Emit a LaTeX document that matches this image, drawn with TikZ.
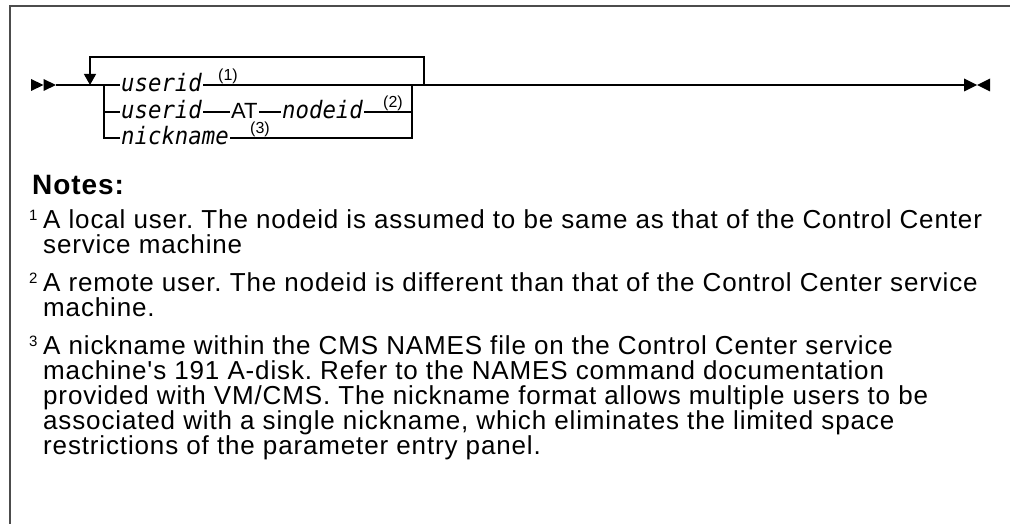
\documentclass[tikz,border=0pt]{standalone}
\usepackage{fontspec}
\setmainfont{Liberation Sans}
\newfontfamily\synfont{DejaVu Sans Mono}[FakeStretch=0.93]
\newfontfamily\notefont{Liberation Sans}[LetterSpace=3.3]
\usetikzlibrary{arrows.meta}
\tikzset{
  rail/.style={line width=1.3pt, line cap=butt},
  frameline/.style={line width=1.5pt, draw=black!70},
  var/.style={inner xsep=1pt, inner ysep=0pt, text height=14pt, text depth=0pt,
    font=\synfont\itshape\fontsize{24}{26}\selectfont},
  kw/.style={inner xsep=1pt, inner ysep=0pt, text height=14pt, text depth=0pt,
    font=\fontsize{22}{24}\selectfont},
  fnref/.style={inner sep=0pt, anchor=south west, font=\fontsize{16}{18}\selectfont},
  notehead/.style={inner sep=0pt, anchor=base west, font=\notefont\bfseries\fontsize{28}{30}\selectfont},
  noteline/.style={inner sep=0pt, anchor=base west, font=\notefont\frenchspacing\fontsize{26}{27}\selectfont},
  notenum/.style={inner sep=0pt, anchor=base west, font=\fontsize{15}{16}\selectfont},
  tipfill/.style={fill=black, draw=none}
}
\begin{document}
\begin{tikzpicture}[x=1pt,y=-1pt]
\useasboundingbox (0,0) rectangle (1010,524);

% frame (top and left rules)
\draw[frameline] (10,524) -- (10,6) -- (1010,6);

% junction points of the syntax diagram
\coordinate (st)  at (56,85);
\coordinate (lp)  at (90,85);
\coordinate (bl)  at (104,85);
\coordinate (bl2) at (104,112);
\coordinate (bl3) at (104,138);
\coordinate (br)  at (412,85);
\coordinate (br2) at (412,112);
\coordinate (br3) at (412,138);
\coordinate (lr)  at (424,85);
\coordinate (en)  at (964,85);

% start and end markers
\fill[tipfill] (31,79) -- (43.5,85) -- (31,91) -- cycle;
\fill[tipfill] (43.5,79) -- (56,85) -- (43.5,91) -- cycle;
\fill[tipfill] (964,78.5) -- (977,85) -- (964,91.5) -- cycle;
\fill[tipfill] (990,78.5) -- (977,85) -- (990,91.5) -- cycle;

% syntax items
\node[var, anchor=west] (u1) at (120,85) {userid};
\node[var, anchor=west] (u2) at (120,112) {userid};
\node[kw,  anchor=west] (at) at (230,112) {AT};
\node[var, anchor=west] (nd) at (281,112) {nodeid};
\node[var, anchor=west] (nk) at (120,138) {nickname};

% footnote references
\node[fnref] (r1) at (218,84) {(1)};
\node[fnref] (r2) at (383,111) {(2)};
\node[fnref] (r3) at (250,137) {(3)};

% main line
\draw[rail] (st) -- (bl) -- (u1.west);
\draw[rail] (u1.east) -- (br) -- (lr) -- (en);

% repeat loop
\draw[rail, -{Triangle[width=12pt,length=11pt]}] (lr) -- ++(0,-28) -| (lp);

% alternatives
\draw[rail] (bl) -- (bl3) -- (nk.west);
\draw[rail] (bl2) -- (u2.west);
\draw[rail] (u2.east) -- (at.west);
\draw[rail] (at.east) -- (nd.west);
\draw[rail] (nd.east) -- (br2);
\draw[rail] (nk.east) -- (br3) -- (br);

% notes
\node[notehead] (nh) at (32,195) {Notes:};

\node[notenum]  (m1) at (29,220) {1};
\node[noteline] (n1a) at (43,228) {A local user. The nodeid is assumed to be same as that of the Control Center};
\node[noteline] (n1b) at (43,253) {service machine};

\node[notenum]  (m2) at (29,283) {2};
\node[noteline] (n2a) at (43,291) {A remote user. The nodeid is different than that of the Control Center service};
\node[noteline] (n2b) at (43,316) {machine.};

\node[notenum]  (m3) at (29,346) {3};
\node[noteline] (n3a) at (43,354) {A nickname within the CMS NAMES file on the Control Center service};
\node[noteline] (n3b) at (43,379) {machine's 191 A-disk. Refer to the NAMES command documentation};
\node[noteline] (n3c) at (43,404) {provided with VM/CMS. The nickname format allows multiple users to be};
\node[noteline] (n3d) at (43,429) {associated with a single nickname, which eliminates the limited space};
\node[noteline] (n3e) at (43,454) {restrictions of the parameter entry panel.};
\end{tikzpicture}
\end{document}
